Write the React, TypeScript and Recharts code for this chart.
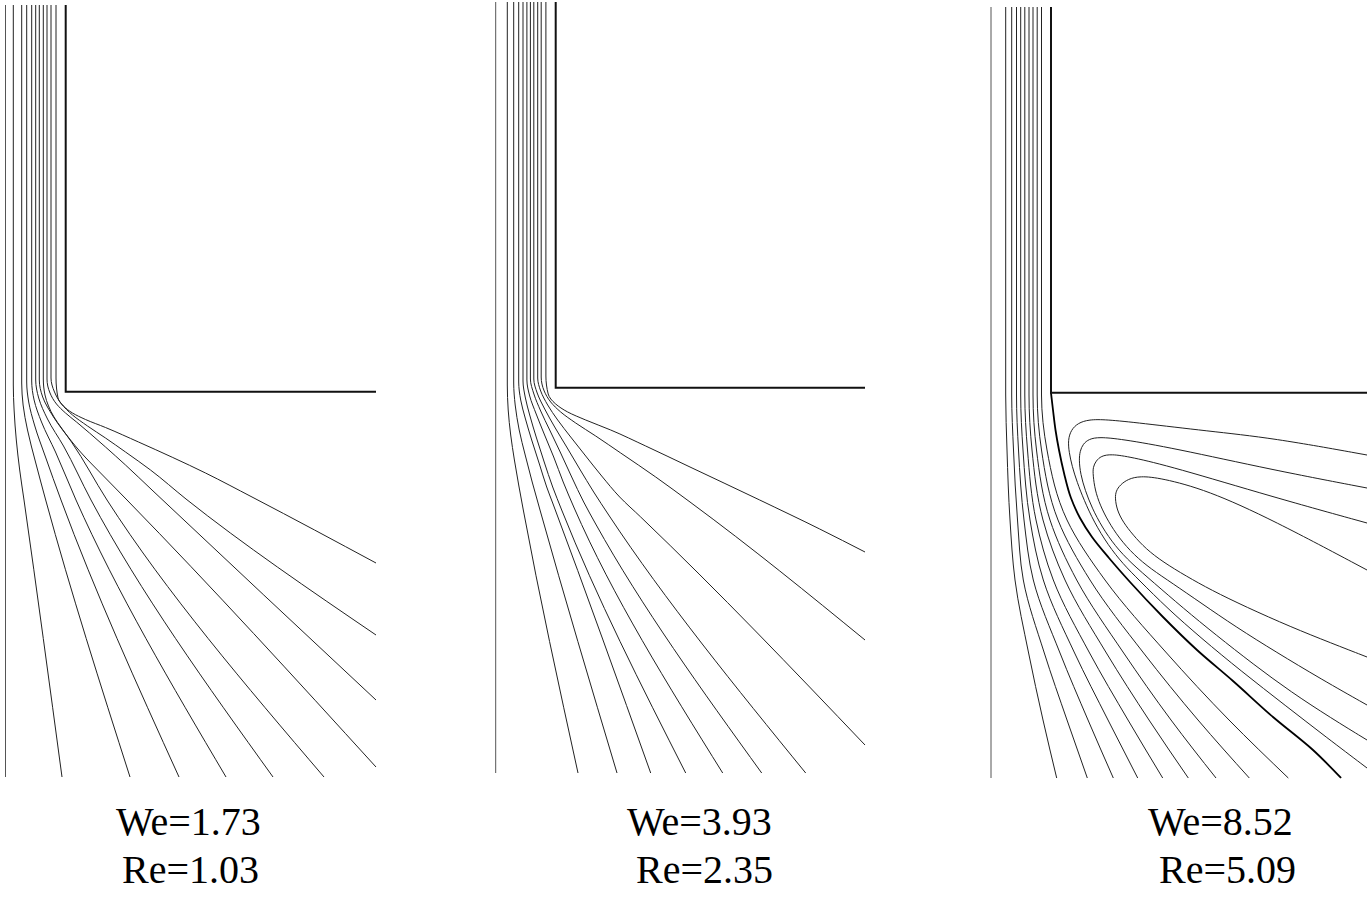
import { LineChart, Line, XAxis, YAxis } from 'recharts'

type Pt = [number, number]

// x = distance from the symmetry axis, y = depth from the top of the picture (px-like units)

// ---- panel 1 : We=1.73, Re=1.03
const p1Axis: Pt[] = [[0, 5], [0, 777]]
const p1Die: Pt[] = [[60.2, 5], [60.2, 391.7], [370.5, 391.7]]
const p1Streams: Pt[][] = [
  [[7.8, 5], [7.8, 385], [8.6, 410], [10.8, 440], [14.2, 470], [18.5, 500], [56.5, 777]],
  [[16.2, 5], [16.2, 383], [17.6, 405], [22, 430], [30, 462], [40.2, 500], [124.5, 777]],
  [[21.2, 5], [21.2, 382], [23.2, 402], [29, 425], [40, 457], [55.5, 500], [173.5, 777]],
  [[26.2, 5], [26.2, 381], [28.6, 400], [36, 422], [50, 452], [70.5, 500], [220.5, 777]],
  [[30.2, 5], [30.2, 380], [33.2, 398], [42, 419], [58, 446], [85.5, 500], [267.5, 777]],
  [[33.8, 5], [33.8, 380], [37.2, 397], [48, 417], [66, 442], [101.5, 500], [318.5, 777]],
  [[37.8, 5], [37.8, 379], [39.5, 395], [43, 406], [48.5, 417], [56, 428], [65, 440], [75, 452], [98, 476], [121.5, 500], [370.5, 767]],
  [[41.5, 5], [41.5, 379], [44.5, 393], [51, 404], [60, 413], [71, 422], [84, 433], [100, 447], [120, 465], [146.5, 490], [370.5, 700]],
  [[45.5, 5], [45.5, 378], [49, 392], [56, 404], [67, 415], [82, 426], [100, 438], [120, 452], [145, 470], [180.5, 499], [370.5, 635]],
  [[50.5, 5], [50.5, 378], [52.5, 398], [58, 406], [67, 413], [80, 419.5], [100, 427.5], [133, 442], [200, 473], [246.5, 497], [370.5, 563]],
]

// ---- panel 2 : We=3.93, Re=2.35
const p2Axis: Pt[] = [[0, 2], [0, 773]]
const p2Die: Pt[] = [[60, 2], [60, 387.7], [369.3, 387.7]]
const p2Streams: Pt[][] = [
  [[11.6, 2], [11.6, 385], [12.5, 410], [15, 435], [18.7, 460], [23, 485], [27.6, 510], [82.3, 773]],
  [[18, 2], [18, 383], [19.5, 405], [23.5, 430], [29.5, 455], [36.5, 482], [44.3, 510], [121.3, 773]],
  [[23, 2], [23, 382], [25, 400], [29.5, 418], [36, 440], [44, 465], [51, 487], [57, 503], [155, 773]],
  [[27.3, 2], [27.3, 381], [29.5, 397], [34, 415], [40.5, 437], [48.5, 462], [57, 487], [66, 510], [190, 773]],
  [[31.2, 2], [31.2, 380], [34, 396], [40.5, 414], [48.5, 434], [58, 457], [67.5, 482], [78.5, 508], [227, 773]],
  [[34.7, 2], [34.7, 379], [38.2, 394], [45, 411], [54, 430], [64.5, 452], [76, 477], [88, 502], [100, 524], [266, 773]],
  [[38.1, 2], [38.1, 379], [41.5, 393], [49, 409], [59, 427], [71, 447], [84, 469], [98, 492], [113, 515], [310, 773]],
  [[42, 2], [42, 378], [45, 391], [52, 405], [62, 420], [75, 437], [90, 456], [106, 476], [124, 497], [145, 517], [369.3, 745]],
  [[45.5, 2], [45.5, 377], [48.5, 391], [55, 402], [65, 412], [80, 423], [100, 436], [125, 453], [160, 477], [194.3, 502], [369.3, 640]],
  [[50.2, 2], [50.2, 376], [52.5, 394], [60, 404], [72, 412], [90, 420], [115, 430], [150, 446], [194.3, 467], [264, 500], [324, 529], [369.3, 552]],
]

// ---- panel 3 : We=8.52, Re=5.09
const p3Axis: Pt[] = [[0, 7], [0, 778]]
const p3Die: Pt[] = [[60, 7], [60, 392.7], [376, 392.7]]
const p3Streams: Pt[][] = [
  [[14.7, 7], [14.7, 395], [16, 450], [19, 520], [24, 580], [37.6, 653], [52, 720], [65.7, 778]],
  [[20.7, 7], [20.7, 395], [22.5, 450], [26.5, 520], [32.3, 580], [53.3, 653], [76, 720], [96.3, 778]],
  [[25.5, 7], [25.5, 395], [27.5, 450], [33, 520], [42.3, 580], [69, 653], [97, 720], [122.3, 778]],
  [[29.7, 7], [29.7, 395], [32, 450], [39, 520], [52.3, 580], [83.6, 653], [117, 720], [146.7, 778]],
  [[33.8, 7], [33.8, 395], [36.5, 450], [45, 520], [62.3, 580], [98.6, 653], [137, 720], [171.7, 778]],
  [[38, 7], [38, 395], [41, 450], [52, 520], [74, 580], [115.4, 653], [158, 720], [197.3, 778]],
  [[42, 7], [42, 395], [45.5, 450], [59, 520], [85.7, 580], [132.7, 653], [180, 720], [225, 778]],
  [[46.2, 7], [46.2, 395], [50.5, 450], [67, 520], [99, 580], [152.6, 653], [207, 720], [258.3, 778]],
  [[50.5, 7], [50.5, 395], [56, 450], [76, 520], [114, 580], [175.6, 653], [238, 720], [297.3, 778]],
]
const p3Separatrix: Pt[] = [
  [60, 393], [62, 410], [64.5, 430], [68, 450], [73, 473], [80, 498], [89, 518], [101, 537],
  [118, 558], [139, 582], [172, 617], [206, 650], [242, 681], [282, 717], [322, 750], [350, 778],
]
const p3Eddies: Pt[][] = [
  [[376, 455], [282, 438], [216, 431], [149, 423], [115, 419.5], [98, 419.5], [87, 423], [80, 430], [77, 440],
    [78, 452], [81, 466], [86, 482], [93, 500], [103, 522], [117, 545], [132, 564], [148, 580], [176, 608],
    [210, 638], [250, 671], [295, 706], [335, 737], [376, 768]],
  [[376, 488], [282, 470], [182, 448], [130, 439], [108, 437], [98, 439], [92, 444], [89, 451], [88, 460],
    [89.5, 474], [94, 490], [101, 508], [111, 527], [124, 546], [140, 563], [162, 582], [192, 608], [225, 635],
    [262, 664], [300, 692], [340, 718], [376, 740]],
  [[376, 523], [282, 497], [182, 467], [140, 457], [120, 454], [110, 456], [105, 461], [102, 467], [102, 475],
    [104, 490], [109, 505], [117, 521], [128, 538], [143, 555], [160, 569], [181, 583], [210, 603], [245, 627],
    [285, 652], [330, 679], [376, 705]],
  [[376, 570], [282, 520], [216, 490], [170, 478], [149, 476], [137, 479], [129, 485], [125, 491], [124, 498],
    [126, 510], [132, 522], [142, 535], [155, 549], [172, 562], [195, 576], [220, 590], [255, 607], [300, 627],
    [340, 643], [376, 657]],
]

const weLabels = ['We=1.73', 'We=3.93', 'We=8.52']
const reLabels = ['Re=1.03', 'Re=2.35', 'Re=5.09']

const toRows = (pts: Pt[]) => pts.map(([x, y]) => ({ x, y }))

type PanelProps = {
  left: number
  xMin: number
  xMax: number
  axis: Pt[]
  die: Pt[]
  streams: Pt[][]
  separatrix?: Pt[]
  eddies?: Pt[][]
}

const H = 800

function Panel({ left, xMin, xMax, axis, die, streams, separatrix, eddies = [] }: PanelProps) {
  const w = xMax - xMin
  return (
    <div style={{ position: 'absolute', left, top: 0, pointerEvents: 'none' }}>
      <LineChart width={w} height={H} margin={{ top: 0, right: 0, bottom: 0, left: 0 }}>
        <XAxis type="number" dataKey="x" domain={[xMin, xMax]} allowDataOverflow hide />
        <YAxis type="number" dataKey="y" domain={[0, H]} reversed allowDataOverflow hide />
        <Line data={toRows(axis)} dataKey="y" type="linear" dot={false} activeDot={false}
          stroke="#555" strokeWidth={1} isAnimationActive={false} />
        {streams.map((s, i) => (
          <Line key={'s' + i} data={toRows(s)} dataKey="y" type="monotoneY" dot={false} activeDot={false}
            stroke="#222" strokeWidth={1} isAnimationActive={false} />
        ))}
        {eddies.map((s, i) => (
          <Line key={'e' + i} data={toRows(s)} dataKey="y" type="basis" dot={false} activeDot={false}
            stroke="#222" strokeWidth={1} isAnimationActive={false} />
        ))}
        {separatrix && (
          <Line data={toRows(separatrix)} dataKey="y" type="monotoneY" dot={false} activeDot={false}
            stroke="#000" strokeWidth={1.8} isAnimationActive={false} />
        )}
        <Line data={toRows(die)} dataKey="y" type="linear" dot={false} activeDot={false}
          stroke="#111" strokeWidth={2} isAnimationActive={false} />
      </LineChart>
    </div>
  )
}

export default function App() {
  const labelX = [[116, 122], [627, 636], [1148, 1159]]
  return (
    <div style={{ position: 'absolute', left: 0, top: 0, width: 1367, height: 917, background: '#fff' }}>
      <Panel left={0} xMin={-5.5} xMax={374.5} axis={p1Axis} die={p1Die} streams={p1Streams} />
      <Panel left={490} xMin={-5.7} xMax={374.3} axis={p2Axis} die={p2Die} streams={p2Streams} />
      <Panel left={985} xMin={-6} xMax={376} axis={p3Axis} die={p3Die} streams={p3Streams}
        separatrix={p3Separatrix} eddies={p3Eddies} />
      <svg width={1367} height={917} style={{ position: 'absolute', left: 0, top: 0, pointerEvents: 'none' }}>
        {weLabels.map((t, i) => (
          <text key={t} x={labelX[i][0]} y={835} fontFamily="'Liberation Serif', 'Times New Roman', serif" fontSize={40} fill="#000">{t}</text>
        ))}
        {reLabels.map((t, i) => (
          <text key={t} x={labelX[i][1]} y={883} fontFamily="'Liberation Serif', 'Times New Roman', serif" fontSize={40} fill="#000">{t}</text>
        ))}
      </svg>
    </div>
  )
}
